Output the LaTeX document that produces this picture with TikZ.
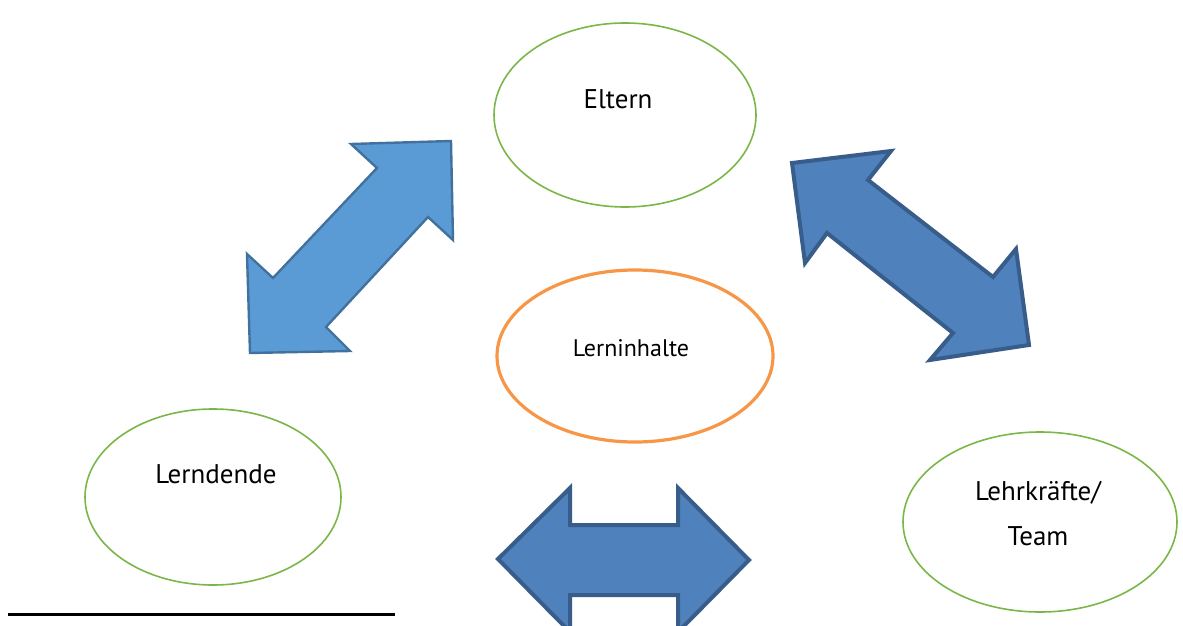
\documentclass[tikz,border=0pt]{standalone}
\usepackage{fontspec}
\setmainfont{PT Sans}
\usetikzlibrary{shapes.geometric}
\definecolor{grn}{HTML}{7AB648}
\definecolor{org}{HTML}{F79646}
\definecolor{lblue}{HTML}{5B9BD5}
\definecolor{lblueline}{HTML}{41719C}
\definecolor{dblue}{HTML}{4F81BD}
\definecolor{dblueline}{HTML}{385D8A}
\tikzset{
  greenell/.style={ellipse, draw=grn, line width=1.6pt, fill=white, align=center, inner sep=0pt},
  orangeell/.style={ellipse, draw=org, line width=3.2pt, fill=white, align=center, inner sep=0pt},
  lightarrow/.style={fill=lblue, draw=lblueline, line width=2.4pt, line join=miter},
  darkarrow/.style={fill=dblue, draw=dblueline, line width=4pt, line join=miter},
  bigtxt/.style={font=\fontsize{27}{45}\selectfont},
  smalltxt/.style={font=\fontsize{24}{28}\selectfont}
}
\begin{document}
\begin{tikzpicture}[x=1pt,y=-1pt]
\useasboundingbox (0,0) rectangle (1183,626);
\clip (0,0) rectangle (1183,626);
% ellipses
\node[greenell, minimum width=262pt, minimum height=184pt, bigtxt] (eltern) at (625,115) {};
\node[bigtxt] (elterntxt) at (618,99) {Eltern};
\node[orangeell, minimum width=276pt, minimum height=172pt] (inhalt) at (635,356) {};
\node[smalltxt] (inhalttxt) at (631,348) {Lerninhalte};
\node[greenell, minimum width=256pt, minimum height=176pt] (lernende) at (213,497) {};
\node[bigtxt] (lernendetxt) at (216,474) {Lerndende};
\node[greenell, minimum width=274pt, minimum height=180pt] (lehr) at (1040,522) {};
\node[bigtxt, align=center] (lehrtxt) at (1038,514) {Lehrkräfte/\\Team};
% arrows
\draw[lightarrow] (351,144) -- (451,141) -- (453,240) -- (428,217) -- (326,327) -- (350,351)
  -- (250,353) -- (247,254) -- (273,278) -- (377,168) -- cycle;
\draw[darkarrow] (792,163) -- (891,151) -- (868,180) -- (993,277) -- (1016,249) -- (1029,345)
  -- (930,360) -- (953,333) -- (827,233) -- (805,263) -- cycle;
\draw[darkarrow] (498,559) -- (570,488) -- (570,525) -- (678,525) -- (678,488) -- (749,560)
  -- (678,632) -- (678,595) -- (570,595) -- (570,632) -- cycle;
% line
\coordinate (la) at (8,614);
\coordinate (lb) at (395,614);
\draw[line width=3pt] (la) -- (lb);
\end{tikzpicture}
\end{document}
